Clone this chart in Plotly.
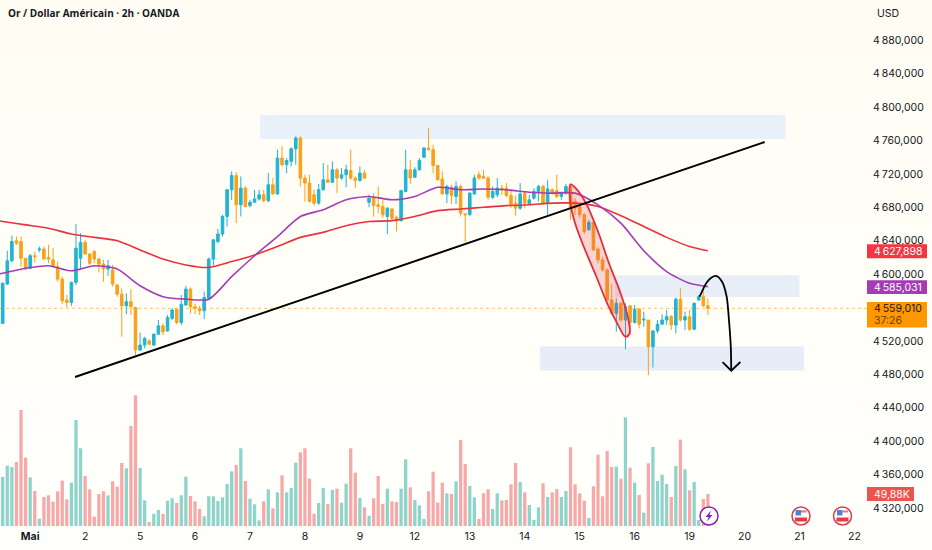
import plotly.graph_objects as go

# 2h candles
opens = [4541,4588,4616,4640,4639,4619,4607,4622,4629,4630,
         4620,4617,4609,4594,4569,4566,4590,4619,4638,4624,
         4627,4618,4612,4606,4605,4587,4576,4562,4567,4560,
         4509,4515,4520,4515,4528,4538,4532,4547,4558,4542,
         4563,4582,4561,4559,4556,4571,4618,4639,4648,4669,
         4701,4718,4683,4703,4682,4686,4690,4695,4688,4707,
         4696,4739,4731,4735,4750,4763,4715,4709,4695,4685,
         4701,4713,4710,4725,4715,4719,4724,4715,4712,4721,
         4686,4692,4683,4681,4669,4678,4668,4664,4699,4725,
         4716,4725,4740,4751,4749,4730,4714,4696,4704,4693,
         4705,4672,4671,4696,4719,4717,4715,4692,4695,4703,
         4703,4694,4685,4679,4697,4684,4691,4698,4705,4685,
         4701,4700,4693,4697,4705,4687,4681,4671,4653,4662,
         4630,4617,4605,4569,4553,4565,4545,4562,4542,4558,
         4545,4545,4513,4532,4540,4545,4549,4539,4570,4545,
         4549,4534,4569,4573,4562]
highs = [4590,4628,4646,4645,4645,4619,4624,4627,4633,4633,
         4635,4631,4615,4597,4575,4591,4660,4649,4641,4625,
         4629,4619,4617,4617,4611,4588,4583,4577,4582,4561,
         4530,4525,4522,4529,4545,4541,4551,4559,4559,4575,
         4586,4584,4565,4562,4579,4620,4642,4654,4671,4702,
         4723,4722,4717,4705,4689,4701,4701,4701,4721,4715,
         4749,4753,4739,4752,4765,4765,4719,4719,4701,4708,
         4733,4731,4735,4727,4727,4731,4749,4717,4729,4725,
         4695,4697,4705,4689,4680,4679,4670,4701,4749,4737,
         4728,4739,4752,4775,4755,4731,4723,4707,4707,4711,
         4707,4673,4698,4719,4723,4725,4717,4705,4715,4707,
         4709,4701,4694,4709,4699,4695,4703,4707,4707,4713,
         4703,4719,4699,4708,4708,4691,4685,4673,4665,4663,
         4632,4621,4607,4588,4571,4567,4565,4563,4563,4559,
         4555,4545,4533,4545,4552,4557,4551,4572,4583,4555,
         4557,4566,4575,4585,4571]
lows = [4540,4587,4614,4635,4609,4605,4606,4614,4626,4617,
        4613,4608,4591,4564,4560,4562,4587,4605,4623,4611,
        4613,4602,4591,4598,4585,4573,4525,4552,4551,4503,
        4508,4511,4515,4514,4527,4527,4531,4545,4540,4539,
        4562,4553,4552,4551,4546,4570,4610,4637,4645,4657,
        4689,4661,4669,4680,4680,4686,4688,4686,4686,4695,
        4695,4729,4721,4729,4731,4705,4687,4686,4682,4683,
        4700,4709,4709,4697,4713,4704,4713,4703,4711,4714,
        4680,4669,4673,4667,4648,4663,4651,4663,4698,4708,
        4715,4724,4739,4748,4721,4712,4695,4685,4684,4684,
        4669,4638,4670,4695,4713,4714,4689,4690,4692,4695,
        4692,4679,4670,4677,4679,4683,4689,4687,4683,4671,
        4695,4691,4689,4695,4665,4671,4667,4648,4652,4628,
        4613,4603,4567,4552,4531,4543,4510,4527,4541,4535,
        4537,4479,4488,4529,4539,4539,4533,4529,4543,4533,
        4532,4533,4568,4561,4551]
closes = [4589,4616,4639,4637,4619,4606,4622,4621,4630,4618,
          4618,4609,4594,4568,4566,4590,4631,4638,4624,4613,
          4618,4612,4606,4610,4588,4576,4562,4567,4561,4509,
          4515,4523,4516,4528,4538,4531,4548,4557,4542,4564,
          4582,4561,4559,4556,4572,4618,4641,4648,4669,4701,
          4718,4683,4703,4681,4686,4690,4695,4688,4707,4696,
          4739,4731,4736,4750,4763,4715,4709,4687,4685,4701,
          4713,4710,4725,4715,4719,4725,4715,4712,4721,4715,
          4691,4682,4681,4671,4679,4667,4664,4700,4725,4715,
          4725,4736,4751,4749,4730,4713,4696,4705,4694,4705,
          4673,4671,4697,4715,4715,4715,4692,4699,4703,4701,
          4694,4683,4679,4696,4685,4689,4699,4705,4685,4702,
          4697,4693,4697,4705,4679,4679,4671,4651,4662,4629,
          4617,4605,4569,4553,4565,4545,4561,4542,4558,4540,
          4546,4513,4532,4540,4545,4549,4539,4570,4545,4549,
          4534,4565,4573,4562,4559.01]
# volume in thousands
volumes = [76.4,94.1,92,99.8,181,106.6,75.9,54.6,11.4,45.2,
           47.8,38,54.1,70.7,41.6,67.6,165.4,121.2,78,57.2,
           14.6,49.9,54.1,47.8,69.7,61.4,98.3,90,156,203.8,
           90.5,40,6.2,19.2,25,18.7,39.5,43.2,35.9,47.8,
           77,46.8,38.5,26.5,15.1,46.3,46.3,39,44.7,65.5,
           85.3,95.2,121.2,70.2,42.6,33.8,8.8,38.5,57.2,27.6,
           52.5,79,52.5,59.3,98.8,114.9,121.2,73.8,19.2,35.9,
           59.3,34.3,56.2,58.2,36.4,66,121.2,83.2,43.7,29.1,
           16.1,43.2,78,34.3,58.2,38.5,37.4,58.2,104,60.3,
           40.6,32.2,10.9,54.1,84.8,36.4,67.6,51,49.9,69.7,
           134.2,96.7,62.4,44.7,10.9,51,57.2,26.5,51,40,
           40.6,65,98.3,68.6,52.5,32.8,9.4,29.1,66.6,45.2,
           52.5,57.7,45.2,54.6,122.7,65,51,39.5,12.5,61.9,
           111.3,46.3,117,92,92.6,73.8,169.5,91,67.6,48.4,
           20.8,97.8,123.2,70.2,80.1,65.5,45.2,93.6,134.7,88.4,
           55.6,68.6,9.4,42.1,49.88]

ma_bars = [-1,0,5,10,15,20,25,30,35,40,45,50,55,60,65,70,75,80,85,90,95,100,
           105,110,115,120,125,130,135,140,145,150,154]
ma_slow = [4664,4663,4659,4655,4648,4644,4640,4629,4618,4611,4608,4615,4623,4633,4644,4650,4658,
           4663,4664,4669,4676,4678,4680,4682,4683,4685,4685,4681,4670,4657,4644,4633,4627.898]
ma_fast = [4600,4601,4607,4610,4604,4610,4606,4586,4573,4570,4570,4597,4622,4645,4669,4677,4689,
           4693,4689,4693,4704,4701,4702,4701,4698,4697,4697,4683,4661,4628,4603,4589,4585.031]

day_bars = [6,18,30,42,54,66,78,90,102,114,126,138,150,162,174,186]
day_labels = ['<b>Mai</b>','2','5','6','7','8','9','12','13','14','15','16','19','20','21','22']
price_ticks = [4880,4840,4800,4760,4720,4680,4640,4600,4520,4480,4440,4400,4360,4320]

# drawings on the chart: bar, price
zones = [(56.2,171,4790.5,4761.8,'#e8f0f9'), (133.7,174,4598.6,4572.6,'#e8eef8'), (117.3,175,4513.4,4484.6,'#e6ecf8')]
trend_bars = [15.8,166.4]
trend_prices = [4476.8,4758.2]
ellipse_bars = [124,124,125,126.9,129.5,132,134.2,136,136.9,136.5,134.8,132.4,130,127.4,125.5,124]
ellipse_prices = [4707.5,4684.7,4660.8,4632.8,4598.9,4565,4541,4525,4529,4549,4579,4613,4651,4684.7,4700.7,4707.5]
arrow_bars = [152.2,153.7,154.8,155.9,157.1,158.1,158.6,159,159.1]
arrow_prices = [4572.9,4589.7,4596,4597.7,4590.9,4572.9,4545,4513,4484.3]
head_bars = [157.2,159.1,161.1]
head_prices = [4494.7,4484.3,4494.7]

UP = '#20b4d2'
DOWN = '#f9a11b'
PLOT_W = 870
PLOT_H = 528
FONT = 'Inter'
THIN = '\u2009'

def px(x):
    return x / PLOT_W

def py(y):
    return 1 - y / PLOT_H

bars = list(range(len(opens)))
vol_colors = ['#8fd4cb' if c >= o else '#f7a9a8' for o, c in zip(opens, closes)]

fig = go.Figure()
fig.add_trace(go.Bar(x=bars, y=volumes, yaxis='y2', width=0.72, marker=dict(color=vol_colors, line_width=0)))
fig.add_trace(go.Candlestick(
    x=bars, open=opens, high=highs, low=lows, close=closes, whiskerwidth=0,
    increasing=dict(line=dict(color=UP, width=1), fillcolor=UP),
    decreasing=dict(line=dict(color=DOWN, width=1), fillcolor=DOWN),
))
fig.add_trace(go.Scatter(x=ma_bars, y=ma_slow, mode='lines', line=dict(color='#e8323f', width=1.6, shape='spline', smoothing=0.7)))
fig.add_trace(go.Scatter(x=ma_bars, y=ma_fast, mode='lines', line=dict(color='#a53cb5', width=1.6, shape='spline', smoothing=0.7)))
fig.add_trace(go.Scatter(x=ellipse_bars, y=ellipse_prices, mode='lines', fill='toself', fillcolor='rgba(235,60,75,0.22)',
                         line=dict(color='#e0303f', width=1.8, shape='spline', smoothing=1)))
fig.add_trace(go.Scatter(x=trend_bars, y=trend_prices, mode='lines', line=dict(color='#000000', width=2)))
fig.add_trace(go.Scatter(x=arrow_bars, y=arrow_prices, mode='lines', line=dict(color='#000000', width=1.8, shape='spline', smoothing=0.8)))
fig.add_trace(go.Scatter(x=head_bars, y=head_prices, mode='lines', line=dict(color='#000000', width=1.8)))

shapes = []
# page background fades from cream to near white
band_colors = ['#fffdf3','#fffdf4','#fffdf5','#fffdf6','#fffef7','#fffef8','#fffef9','#fffefa','#fffffb','#fffffc']
for k, col in enumerate(band_colors):
    shapes.append(dict(type='rect', xref='paper', yref='paper', x0=0, x1=px(932), y0=py(55 * (k + 1)), y1=py(55 * k),
                       fillcolor=col, line_width=0, layer='below'))
for x0, x1, y0, y1, col in zones:
    shapes.append(dict(type='rect', x0=x0, x1=x1, y0=y0, y1=y1, fillcolor=col, line_width=0, layer='below'))
shapes.append(dict(type='line', xref='paper', x0=0, x1=1, y0=closes[-1], y1=closes[-1],
                   line=dict(color='#fbc46e', width=1, dash='dot'), layer='below'))

# price tags right of the axis
tags = [(244.3,258.3,'#f23645'), (280.3,294,'#a53cb5'), (302,327.5,'#ff9800'), (487,501,'#ef5350')]
for top, bottom, col in tags:
    right = 914 if top == 487 else 927
    shapes.append(dict(type='rect', xref='paper', yref='paper', x0=px(867), x1=px(right), y0=py(bottom), y1=py(top),
                       fillcolor=col, line_width=0))

# event markers
for cx, col in [(709,'#8e24aa'), (801,'#e53946'), (842.5,'#e53946')]:
    shapes.append(dict(type='circle', xref='paper', yref='paper', x0=px(cx-9), x1=px(cx+9), y0=py(525), y1=py(507),
                       fillcolor='#ffffff', line=dict(color=col, width=1.5)))
for cx in [801, 842.5]:
    shapes.append(dict(type='rect', xref='paper', yref='paper', x0=px(cx-5.5), x1=px(cx), y0=py(515.5), y1=py(510),
                       fillcolor='#4a86d8', line_width=0))
    shapes.append(dict(type='rect', xref='paper', yref='paper', x0=px(cx), x1=px(cx+5.5), y0=py(512.5), y1=py(510.5),
                       fillcolor='#e8707a', line_width=0))
    shapes.append(dict(type='rect', xref='paper', yref='paper', x0=px(cx-6), x1=px(cx+6), y0=py(521.5), y1=py(517.5),
                       fillcolor='#e53946', line_width=0))
bolt = [(711,510.5),(705.5,517),(708.5,517),(707,521.5),(712.5,515),(709.5,515)]
bolt_path = 'M ' + ' L '.join(f'{px(x):.5f},{py(y):.5f}' for x, y in bolt) + ' Z'
shapes.append(dict(type='path', xref='paper', yref='paper', path=bolt_path, fillcolor='#8e24aa', line_width=0))

def tag_text(x, y, text, color, size=10.5):
    return dict(xref='paper', yref='paper', x=px(x), y=py(y), text=text, showarrow=False, xanchor='left', yanchor='middle',
                font=dict(family=FONT, size=size, color=color))

annotations = [
    tag_text(6, 13, '<b>Or / Dollar Américain · 2h · OANDA</b>', '#131722', 10),
    tag_text(875, 14, 'USD', '#131722', 10.5),
    tag_text(872, 251.3, f'4{THIN}627,898', '#ffffff'),
    tag_text(872, 287.2, f'4{THIN}585,031', '#ffffff'),
    tag_text(872, 308.7, f'4{THIN}559,010', '#131722'),
    tag_text(872, 320, '37:26', '#6b3d00', 10.5),
    tag_text(872, 494, '49,88K', '#ffffff'),
]
annotations[0]['font']['family'] = 'Open Sans'

fig.update_layout(
    width=932, height=550,
    margin=dict(l=0, r=62, t=0, b=22),
    paper_bgcolor='#fffffc', plot_bgcolor='rgba(0,0,0,0)',
    showlegend=False, separators=',' + THIN, boxgap=0.2,
    font=dict(family=FONT, size=10.5, color='#131722'),
    shapes=shapes, annotations=annotations,
    xaxis=dict(range=[-0.59,189.4], rangeslider=dict(visible=False), showgrid=False, zeroline=False,
               tickmode='array', tickvals=day_bars, ticktext=day_labels, ticks='', showline=False,
               tickfont=dict(size=10.5, color='#131722')),
    yaxis=dict(range=[4295.9,4928.3], side='right', showgrid=False, zeroline=False, tickmode='array',
               tickvals=price_ticks, tickformat=',.3f', ticks='', ticklabelstandoff=2, automargin=False),
    yaxis2=dict(range=[-3.1,820], overlaying='y', visible=False),
)

# the page's default body margin would push the figure off the 932x550 window
fig.write_html("out.html", config=dict(displayModeBar=False), post_script="document.body.style.margin='0';")
